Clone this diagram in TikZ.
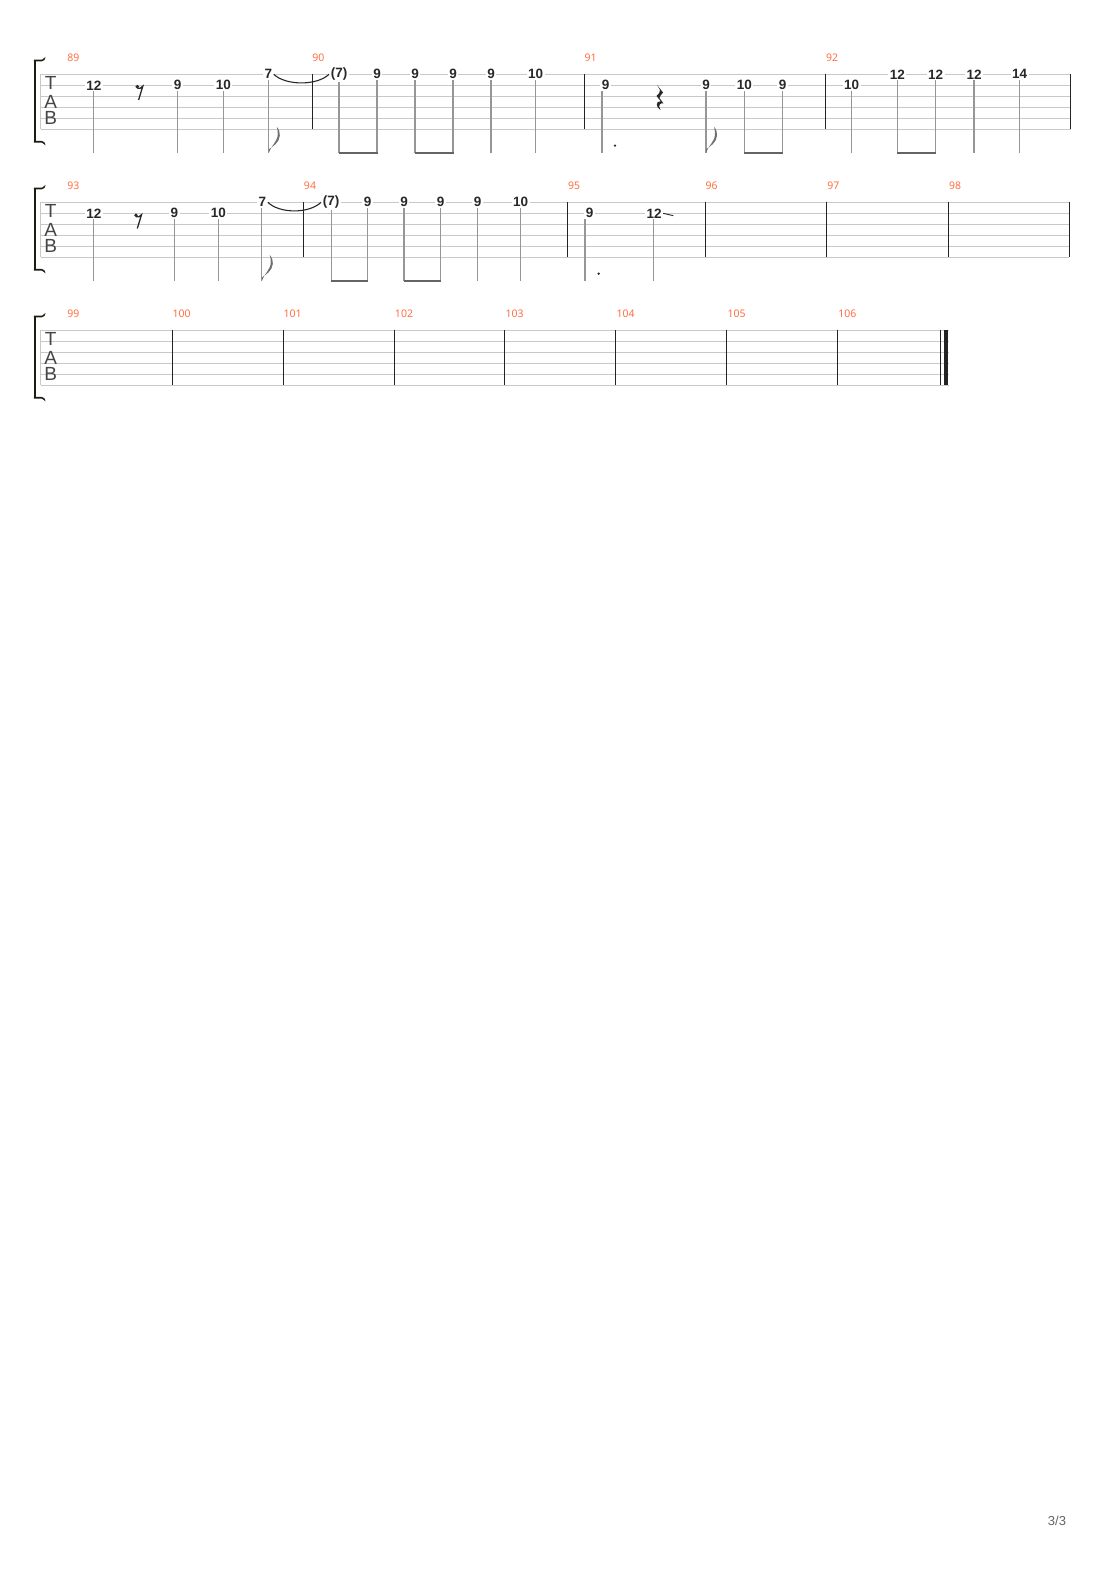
\documentclass[tikz,border=0pt]{standalone}
\usepackage{fontspec}
\setmainfont{Liberation Sans}
\newfontfamily\fretfamily{Liberation Sans}
\newfontfamily\numfamily{Noto Sans}

\definecolor{staffgray}{RGB}{200,200,200}
\definecolor{bardark}{RGB}{35,35,35}
\definecolor{stemgray}{RGB}{150,150,150}
\definecolor{beamgray}{RGB}{100,100,100}
\definecolor{flaggray}{RGB}{110,110,110}
\definecolor{fretdark}{RGB}{40,40,40}
\definecolor{barnumorange}{RGB}{255,112,67}
\definecolor{tabgray}{RGB}{70,70,70}
\definecolor{bracketdark}{RGB}{28,28,18}
\definecolor{pagegray}{RGB}{100,100,100}

\tikzset{
  staffline/.style={draw=staffgray, line width=1pt},
  barline/.style={draw=bardark, line width=1.1pt},
  bracket/.style={draw=bracketdark, line width=2.2pt},
  stemline/.style={draw=stemgray, line width=1.1pt},
  beamline/.style={draw=beamgray, line width=2.5pt, yshift=1.2pt, shorten <=-0.5pt, shorten >=-0.5pt},
  tieline/.style={draw=fretdark, line width=1.1pt},
  fret/.style={fill=white, inner xsep=1.5pt, inner ysep=1pt, text=fretdark,
    font=\fretfamily\bfseries\fontsize{13.5}{13.5}\selectfont},
  barnum/.style={inner sep=0pt, text=barnumorange, font=\numfamily\fontsize{10.5}{10.5}\selectfont},
  tabletter/.style={inner sep=0pt, text=tabgray, font=\fontsize{19}{19}\selectfont},
  pagenum/.style={inner sep=0pt, text=pagegray, font=\fontsize{13}{13}\selectfont},
  eighthrest/.pic={
    \fill[fretdark] (-0.7,-6.3) circle (1.9);
    \draw[fretdark, line width=1.3pt] (-0.7,-4.8) .. controls (1.5,-4) and (3.5,-5) .. (4.8,-6.8) -- (0.6,7);
  },
  quarterrest/.pic={
    \fill[fretdark] (-3,-12.5) -- (3,-5) .. controls (1,-2.5) and (-0.5,-1) .. (-0.5,0.5)
      -- (3.5,6) .. controls (0.5,5) and (-2.5,7.5) .. (0.5,12.5)
      .. controls (-4.5,10) and (-4.5,3) .. (0.8,3.8) -- (-3.5,-1.5)
      .. controls (-1.5,-3.5) and (0.5,-5) .. (0,-7.5) -- cycle;
  },
  eighthflag/.pic={
    \fill[flaggray] (0,0) .. controls (2,-7) and (9,-11) .. (9,-19)
      .. controls (9,-22) and (8.5,-24) .. (8,-26)
      .. controls (10.5,-23) and (11.3,-20) .. (11,-17)
      .. controls (10.5,-10) and (3.5,-6) .. (0,-3.5) -- cycle;
  }
}

\begin{document}
\begin{tikzpicture}[x=1pt,y=-1pt]
  \useasboundingbox[fill=white] (0,0) rectangle (1110,1570);

  % staves with bar lines, bracket and clef
  \def \Systems {
    1/74.3/1070.7/{312.7,584.3,825.3,1070.7},
    2/202.3/1069.3/{303.3,567.3,705.7,826.3,948.3,1069.3},
    3/330.3/948.7/{172.7,283.7,394.7,504.5,615.3,726.7,837.7,940.3}}

  \foreach \id / \y / \xend / \bars in \Systems {
    \foreach \k in {0,...,5} {
      \draw[staffline] (40.7, \y+11*\k) -- (\xend, \y+11*\k);
    }
    \draw[staffline] (40.7, \y) -- (40.7, \y+55);
    \foreach \b in \bars {
      \draw[barline] (\b, \y) -- (\b, \y+55);
    }
    \draw[bracket] (35, \y-13.5) -- (35, \y+66.5);
    \fill[bracketdark] (33.9, \y-14.6) -- (42, \y-14.6) .. controls (44, \y-15) .. (45.5, \y-17.3)
      .. controls (44.5, \y-13.8) .. (41.5, \y-12.9) -- (33.9, \y-12.9) -- cycle;
    \fill[bracketdark] (33.9, \y+68.3) -- (42, \y+68.3) .. controls (44, \y+68.7) .. (45.5, \y+71)
      .. controls (44.5, \y+67.5) .. (41.5, \y+66.6) -- (33.9, \y+66.6) -- cycle;
    \node[tabletter] (T\id) at (50.7, \y+8.7) {T};
    \node[tabletter] (A\id) at (50.7, \y+27.4) {A};
    \node[tabletter] (B\id) at (50.7, \y+43.4) {B};
  }
  \draw[barline, line width=4pt] (946, 330.3) -- (946, 385.3);

  % measure numbers
  \def \Measures {
    89/73.3/58.1, 90/318.3/58.1, 91/590.7/58.1, 92/832/58.1,
    93/73.3/186.1, 94/310/186.1, 95/574/186.1, 96/711.7/186.1, 97/833.3/186.1, 98/955/186.1,
    99/73.3/314.1, 100/181.7/314.1, 101/292.7/314.1, 102/404/314.1,
    103/514.7/314.1, 104/625.7/314.1, 105/736.7/314.1, 106/847.3/314.1}
  \foreach \m / \x / \y in \Measures {
    \node[barnum] (mn\m) at (\x, \y) {\m};
  }

  % notes, first system
  \def \NotesA {
    n89a/94/2/12/-0.5, n89b/177.7/2/9/0, n89c/223.3/2/10/0, n89d/268.3/1/7/0.5,
    n90a/339/1/{(7)}/0, n90b/377/1/9/0, n90c/415/1/9/0, n90d/453/1/9/0,
    n90e/491/1/9/0, n90f/535.7/1/10/0,
    n91a/605.7/2/9/-3.7, n91b/706/2/9/0, n91c/744.3/2/10/0, n91d/782.7/2/9/0,
    n92a/851.7/2/10/0, n92b/897.3/1/12/0, n92c/935.7/1/12/0, n92d/974/1/12/0, n92e/1019.7/1/14/0}
  \foreach \id / \x / \s / \f / \dx in \NotesA {
    \node[fret] (\id) at (\x, 74.3+11*\s-11) {\f};
    \coordinate (\id-tip) at (\x+\dx, 152.8);
    \draw[stemline] (\id.south -| \id-tip) -- (\id-tip);
  }

  % notes, second system
  \def \NotesB {
    n93a/94/2/12/-0.5, n93b/174.3/2/9/0, n93c/218.3/2/10/0, n93d/262.3/1/7/-0.5,
    n94a/331/1/{(7)}/0.5, n94b/367.7/1/9/0, n94c/404/1/9/0, n94d/440.7/1/9/0,
    n94e/477.7/1/9/0, n94f/520.7/1/10/0,
    n95a/589.7/2/9/-4.7, n95b/654/2/12/-0.5}
  \foreach \id / \x / \s / \f / \dx in \NotesB {
    \node[fret] (\id) at (\x, 202.3+11*\s-11) {\f};
    \coordinate (\id-tip) at (\x+\dx, 281);
    \draw[stemline] (\id.south -| \id-tip) -- (\id-tip);
  }

  % beams, flags, dots, rests
  \foreach \a / \b in {n90a/n90b, n90c/n90d, n91c/n91d, n92b/n92c, n94a/n94b, n94c/n94d} {
    \draw[beamline] (\a-tip) -- (\b-tip);
  }
  \foreach \id in {n89d, n91b, n93d} {
    \pic at (\id-tip) {eighthflag};
  }
  \fill[fretdark] (n91a-tip) ++(13,-7.2) circle (1.3);
  \fill[fretdark] (n95a-tip) ++(13.7,-7.3) circle (1.3);
  \pic at (138, 93) {eighthrest};
  \pic at (136.7, 221.5) {eighthrest};
  \pic at (660, 97.5) {quarterrest};

  % ties and slide
  \draw[tieline] (n89d.east) .. controls +(12,11.5) and +(-12,11.5) .. (n90a.west);
  \draw[tieline] (n93d.east) .. controls +(12,11.5) and +(-12,11.5) .. (n94a.west);
  \coordinate (n95b-slide) at (673.3, 215.7);
  \draw[tieline, line width=0.9pt] (n95b.east) -- (n95b-slide);

  \node[pagenum] (page) at (1057, 1521) {3/3};
\end{tikzpicture}
\end{document}
